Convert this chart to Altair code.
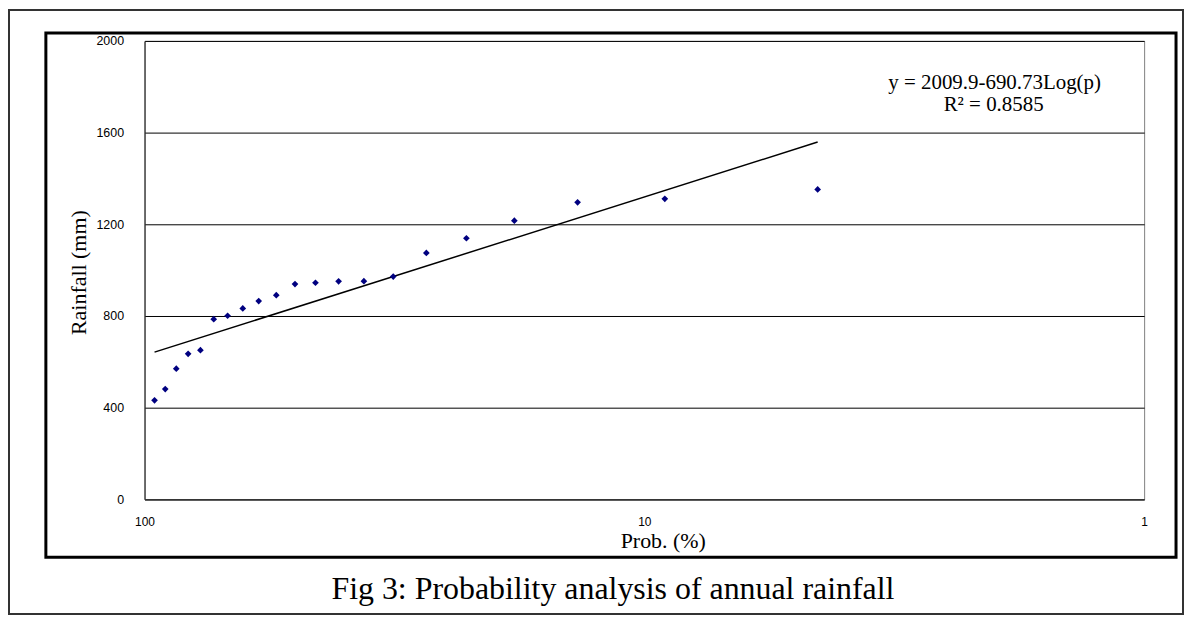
import altair as alt
import numpy as np
import pandas as pd

# Exceedance probability (%) – Weibull plotting positions m/(n+1), n = 21
prob = [95.5, 90.9, 86.4, 81.8, 77.3, 72.7, 68.2, 63.6, 59.1, 54.5, 50.0,
        45.5, 40.9, 36.4, 31.8, 27.3, 22.7, 18.2, 13.6, 9.1, 4.5]
# Annual rainfall (mm)
rain = [432, 481, 570, 635, 651, 786, 801, 833, 865, 891, 939,
        945, 951, 952, 972, 1075, 1139, 1216, 1296, 1311, 1352]

# Trend line shown in the figure
intercept = 2009.9
slope = 690.73
r_squared = 0.8585

y_ticks = [0, 400, 800, 1200, 1600, 2000]
x_ticks = [1, 10, 100]

fig_title = "Fig 3: Probability analysis of annual rainfall"
x_title = "Prob. (%)"
y_title = "Rainfall (mm)"

points_df = pd.DataFrame({"p": prob, "rain": rain})
trend_p = np.array([max(prob), min(prob)])
trend_df = pd.DataFrame({"p": trend_p, "rain": intercept - slope * np.log10(trend_p)})
eq_df = pd.DataFrame({"t": [f"y = {intercept}-{slope}Log(p)"]})
r2_df = pd.DataFrame({"t": [f"R\u00b2 = {r_squared}"]})
title_df = pd.DataFrame({"t": [fig_title]})
one = alt.Data(values=[{"a": 1}])

SERIF = "Liberation Serif"
SANS = "Liberation Sans"

x_scale = alt.Scale(type="log", domain=[1, 100], reverse=True)
y_scale = alt.Scale(domain=[0, 2000])

x_axis = alt.Axis(values=x_ticks, format="d", title=x_title, grid=False, ticks=False,
                  labelFont=SANS, labelFontSize=12, labelColor="black", labelPadding=17,
                  labelFlush=False, domainColor="#333333", domainWidth=1.2,
                  titleFont=SERIF, titleFontSize=22, titleFontWeight="normal",
                  titleColor="black", titleX=520, titleY=41, titleAlign="center",
                  titleBaseline="middle")
y_axis = alt.Axis(values=y_ticks, format="d", title=y_title, grid=True, gridColor="black",
                  gridWidth=1, gridOpacity=1, ticks=False,
                  labelFont=SANS, labelFontSize=12.5, labelColor="black", labelPadding=21,
                  labelFlush=False, domainColor="#333333", domainWidth=1.2,
                  titleFont=SERIF, titleFontSize=22, titleFontWeight="normal",
                  titleColor="black", titleX=-66, titleY=232, titleAlign="center",
                  titleBaseline="middle")

outer = alt.Chart(one).mark_rect(fillOpacity=0, stroke="#333333", strokeWidth=2).encode(
    x=alt.value(-136), x2=alt.value(1042), y=alt.value(-31), y2=alt.value(575))
inner = alt.Chart(one).mark_rect(fillOpacity=0, stroke="black", strokeWidth=3).encode(
    x=alt.value(-99), x2=alt.value(1035), y=alt.value(-8), y2=alt.value(518))

pts = alt.Chart(points_df).mark_point(shape="diamond", filled=True, color="#000080",
                                      size=45, opacity=1).encode(
    x=alt.X("p:Q", scale=x_scale, axis=x_axis),
    y=alt.Y("rain:Q", scale=y_scale, axis=y_axis))

trend = alt.Chart(trend_df).mark_line(color="black", strokeWidth=1.5).encode(
    x=alt.X("p:Q", scale=x_scale),
    y=alt.Y("rain:Q", scale=y_scale))

eq = alt.Chart(eq_df).mark_text(font=SERIF, fontSize=21, color="black", align="center",
                                baseline="alphabetic").encode(
    x=alt.value(853), y=alt.value(48), text="t:N")
r2 = alt.Chart(r2_df).mark_text(font=SERIF, fontSize=21, color="black", align="center",
                                baseline="alphabetic").encode(
    x=alt.value(852), y=alt.value(70), text="t:N")
ttl = alt.Chart(title_df).mark_text(font=SERIF, fontSize=32, color="black", align="center",
                                    baseline="middle").encode(
    x=alt.value(470), y=alt.value(550), text="t:N")

chart = alt.layer(outer, inner, trend, pts, eq, r2, ttl).properties(
    width=1003, height=460,
    padding={"left": 137, "top": 32, "right": 40, "bottom": 116},
    autosize=alt.AutoSizeParams(type="none"),
    background="white",
).configure_view(stroke="#808080", strokeWidth=1)

chart.save("out.html", embed_options={"renderer": "svg", "actions": False})
